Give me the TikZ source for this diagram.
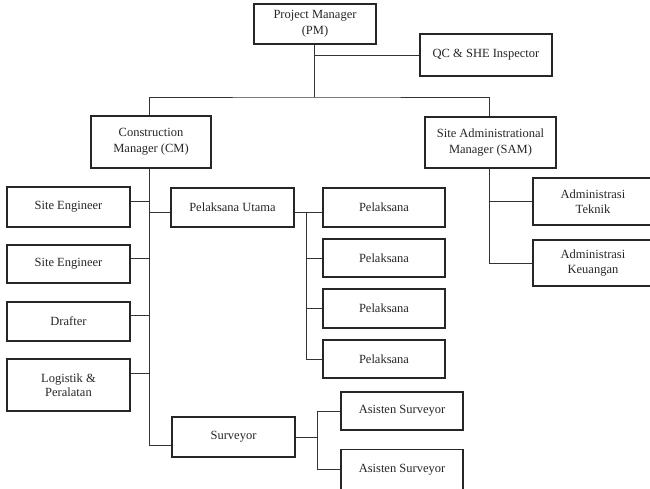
\documentclass[tikz,border=0pt]{standalone}
\usepackage{fontspec}
\setmainfont{Liberation Serif}
\begin{document}
\begin{tikzpicture}[x=1pt,y=-1pt,
  box/.style={draw=black!85, line width=1.1pt, fill=white, align=center, inner sep=0pt,
    font=\fontsize{12.5}{14.5}\selectfont, text=black!85},
  bigbox/.style={box, font=\fontsize{12.5}{16}\selectfont},
  link/.style={draw=black!80, line width=1pt}]
\clip (0,0) rectangle (650,488);
% top
\node[bigbox, minimum width=122pt, minimum height=40pt] (pm) at (315,24) {Project Manager\\(PM)};
\node[box, minimum width=132pt, minimum height=42pt] (qc) at (486,55) {QC \& SHE Inspector};
\node[bigbox, minimum width=120pt, minimum height=52pt] (cm) at (151,142) {Construction\\Manager (CM)};
\node[bigbox, minimum width=131pt, minimum height=51pt] (sam) at (490.5,142.5) {Site Administrational\\Manager (SAM)};
% left column
\node[box, minimum width=123pt, minimum height=40pt] (se1) at (68.5,207) {Site Engineer};
\node[box, minimum width=123pt, minimum height=38pt] (se2) at (68.5,264) {Site Engineer};
\node[box, minimum width=123pt, minimum height=39pt] (dr) at (68.5,321.5) {Drafter};
\node[box, minimum width=123pt, minimum height=52pt] (lg) at (68.5,385) {Logistik \&\\Peralatan};
% middle
\node[box, minimum width=123pt, minimum height=39pt] (pu) at (232.5,207.5) {Pelaksana Utama};
\node[box, minimum width=123pt, minimum height=40pt] (sv) at (233.5,437) {Surveyor};
% pelaksana
\node[box, minimum width=122pt, minimum height=39pt] (p1) at (384,207.5) {Pelaksana};
\node[box, minimum width=122pt, minimum height=38pt] (p2) at (384,258) {Pelaksana};
\node[box, minimum width=122pt, minimum height=39pt] (p3) at (384,308.5) {Pelaksana};
\node[box, minimum width=122pt, minimum height=38pt] (p4) at (384,359) {Pelaksana};
% asisten
\node[box, minimum width=122pt, minimum height=38pt] (a1) at (402,411) {Asisten Surveyor};
\node[box, minimum width=122pt, minimum height=40pt] (a2) at (402,469.5) {Asisten Surveyor};
% admin
\node[box, minimum width=120pt, minimum height=47pt] (adt) at (593,201.5) {Administrasi\\Teknik};
\node[box, minimum width=120pt, minimum height=46pt] (adk) at (593,263) {Administrasi\\Keuangan};
% helper coordinates
\coordinate (busM) at (314,97);
\coordinate (cmv) at (149,445);
\coordinate (pb) at (306,212);
\coordinate (ab) at (317,437);
\coordinate (sv2) at (489,263);
% connectors
\draw[link] (pm.south -| busM) -- (busM);
\draw[link] (busM |- qc.west) -- (qc.west);
\draw[link] (cm.north -| cmv) |- (busM) -| (sam.north -| sv2);
\draw[link] (cm.south -| cmv) -- (cmv) -- (cmv -| sv.west);
\draw[link] ([yshift=6pt]se1.east) -- ([yshift=6pt]se1.east -| cmv);
\draw[link] ([yshift=6pt]se2.east) -- ([yshift=6pt]se2.east -| cmv);
\draw[link] ([yshift=6.5pt]dr.east) -- ([yshift=6.5pt]dr.east -| cmv);
\draw[link] ([yshift=12pt]lg.east) -- ([yshift=12pt]lg.east -| cmv);
\draw[link] ([yshift=-4.5pt]pu.west) -- ([yshift=-4.5pt]pu.west -| cmv);
\draw[link] ([yshift=-4.5pt]pu.east) -- ([yshift=-4.5pt]p1.west);
\draw[link] (pb) |- (p4.west);
\draw[link] (pb |- p2.west) -- (p2.west);
\draw[link] (pb |- p3.west) -- (p3.west);
\draw[link] (sv.east) -- (ab);
\draw[link] (ab |- a1.west) -- (a1.west);
\draw[link] (ab |- a1.west) |- (a2.west);
\draw[link] (sam.south -| sv2) -- (sv2) -- (adk.west);
\draw[link] (sv2 |- adt.west) -- (adt.west);
\end{tikzpicture}
\end{document}
